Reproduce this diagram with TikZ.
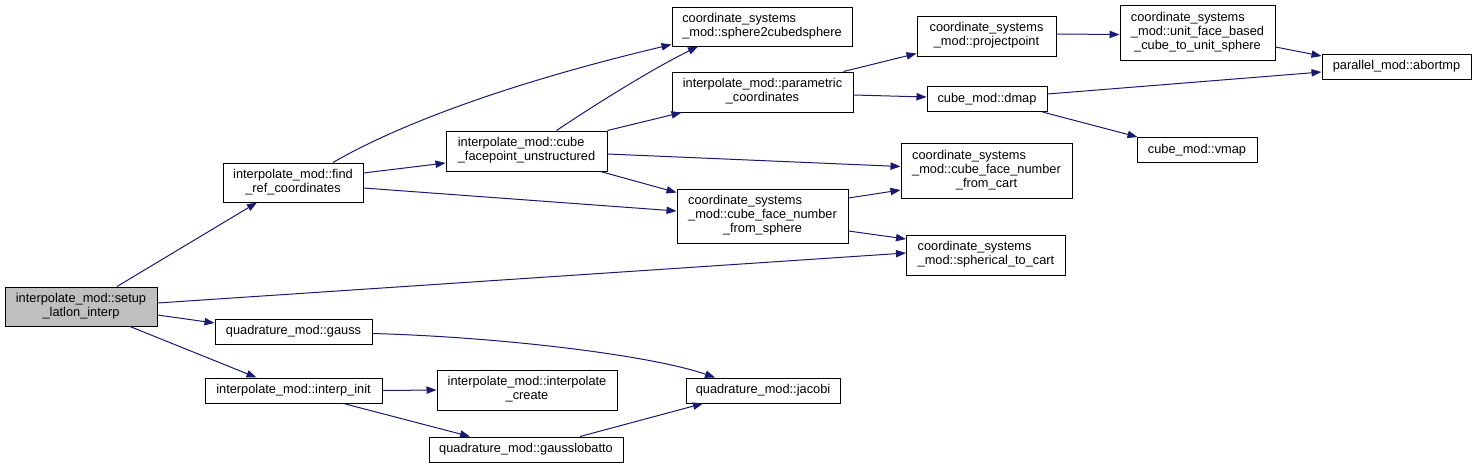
\documentclass[tikz,border=0pt]{standalone}
\usepackage{fontspec}
\setmainfont{Liberation Sans}
\usepackage{xcolor}
\usepackage{tikz}
\usetikzlibrary{arrows.meta}

\definecolor{edgeblue}{RGB}{25,25,112}
% two or three line labels: upper lines flush left, last line centred
\newcommand{\fnlab}[2]{\begin{tabular}{@{}l@{}}#1\\\multicolumn{1}{@{}c@{}}{#2}\end{tabular}}

\begin{document}
\begin{tikzpicture}[
      x=0.75pt, y=-0.75pt,
      font=\fontsize{9.6}{10.6}\selectfont,
      fn/.style={draw, line width=0.75pt, inner sep=0pt, minimum height=18.75pt, fill=white},
      root/.style={fn, fill=black!25},
      arr/.style={-{Triangle[length=7.5pt, width=5.5pt]}, draw=edgeblue, line width=0.75pt},
    ]
    \useasboundingbox (0,0) rectangle (1476,468);

    % Caller
    \node[root, minimum width=114pt, minimum height=29.25pt] (setup) at (81,306.5)
      {\fnlab{interpolate\_mod::setup}{\_latlon\_interp}};

    % First level
    \node[fn, minimum width=105pt, minimum height=29.25pt] (findref) at (293,182.5)
      {\fnlab{interpolate\_mod::find}{\_ref\_coordinates}};
    \node[fn, minimum width=117.75pt] (gauss) at (293.5,331.5) {quadrature\_mod::gauss};
    \node[fn, minimum width=132.75pt] (interpinit) at (293.5,390.5) {interpolate\_mod::interp\_init};

    % Second level
    \node[fn, minimum width=120.75pt, minimum height=30pt] (cubefp) at (526.5,151)
      {\fnlab{interpolate\_mod::cube}{\_facepoint\_unstructured}};
    \node[fn, minimum width=135pt, minimum height=30pt] (interpcreate) at (527,390)
      {\fnlab{interpolate\_mod::interpolate}{\_create}};
    \node[fn, minimum width=145.5pt] (gausslob) at (526,449.5) {quadrature\_mod::gausslobatto};

    % Third level
    \node[fn, minimum width=135pt, minimum height=29.25pt] (sph2cubed) at (762,26.5)
      {\fnlab{coordinate\_systems}{\_mod::sphere2cubedsphere}};
    \node[fn, minimum width=135.75pt, minimum height=30pt] (parametric) at (762.5,92)
      {\fnlab{interpolate\_mod::parametric}{\_coordinates}};
    \node[fn, minimum width=128.25pt, minimum height=40.5pt] (cfsphere) at (762.5,216)
      {\fnlab{coordinate\_systems\\\_mod::cube\_face\_number}{\_from\_sphere}};
    \node[fn, minimum width=115.5pt] (jacobi) at (763,390.5) {quadrature\_mod::jacobi};

    % Fourth level
    \node[fn, minimum width=104.25pt, minimum height=30pt] (projpoint) at (986.5,36)
      {\fnlab{coordinate\_systems}{\_mod::projectpoint}};
    \node[fn, minimum width=90pt] (dmap) at (987,99) {cube\_mod::dmap};
    \node[fn, minimum width=128.25pt, minimum height=41.25pt] (cfcart) at (986.5,170.5)
      {\fnlab{coordinate\_systems\\\_mod::cube\_face\_number}{\_from\_cart}};
    \node[fn, minimum width=119.25pt, minimum height=30pt] (sph2cart) at (986,255)
      {\fnlab{coordinate\_systems}{\_mod::spherical\_to\_cart}};

    % Fifth level
    \node[fn, minimum width=116.25pt, minimum height=41.25pt] (unitface) at (1197.5,32.5)
      {\fnlab{coordinate\_systems\\\_mod::unit\_face\_based}{\_cube\_to\_unit\_sphere}};
    \node[fn, minimum width=90pt] (vmap) at (1197,150) {cube\_mod::vmap};
    \node[fn, minimum width=111.75pt] (abortmp) at (1396.5,66.5) {parallel\_mod::abortmp};

    % Calls
    \draw[arr] ([shift={(36,0)}]setup.north) -- ([shift={(-36,0)}]findref.south);
    \draw[arr] ([shift={(0,-3.5)}]setup.east) -- ([shift={(0,-2)}]sph2cart.west);
    \draw[arr] ([shift={(0,8.5)}]setup.east) -- ([shift={(0,-8.5)}]gauss.west);
    \draw[arr] ([shift={(49,0)}]setup.south) -- ([shift={(-37,0)}]interpinit.north);

    \draw[arr] ([shift={(0,-9.5)}]findref.east) -- ([shift={(0,12)}]cubefp.west);
    \draw[arr] ([shift={(40,0)}]findref.north) .. controls (380,135) and (480,90) ..
      ([shift={(0,-2)}]sph2cubed.south west);
    \draw[arr] ([shift={(0,5.5)}]findref.east) -- ([shift={(0,-5)}]cfsphere.west);

    \draw[arr] ([shift={(30,0)}]cubefp.north) .. controls (590,108) and (650,70) ..
      ([shift={(-64,0)}]sph2cubed.south);
    \draw[arr] (cubefp.north east) -- ([shift={(10,0)}]parametric.south west);
    \draw[arr] ([shift={(0,3)}]cubefp.east) -- ([shift={(0,-4)}]cfcart.west);
    \draw[arr] ([shift={(-7,0)}]cubefp.south east) -- ([shift={(0,4)}]cfsphere.north west);

    \draw[arr] ([shift={(0,-18)}]cfsphere.east) -- ([shift={(0,19.5)}]cfcart.west);
    \draw[arr] ([shift={(0,15)}]cfsphere.east) -- ([shift={(0,-16)}]sph2cart.west);

    \draw[arr] ([shift={(-10,0)}]parametric.north east) -- ([shift={(0,-3)}]projpoint.south west);
    \draw[arr] ([shift={(0,3)}]parametric.east) -- ([shift={(0,-2)}]dmap.west);

    \draw[arr] ([shift={(0,-2)}]projpoint.east) -- ([shift={(0,2)}]unitface.west);
    \draw[arr] ([shift={(0,14.5)}]unitface.east) -- ([shift={(0,-10.5)}]abortmp.west);
    \draw[arr] ([shift={(0,-5)}]dmap.east) -- ([shift={(0,5.5)}]abortmp.west);
    \draw[arr] ([shift={(-5,0)}]dmap.south east) -- ([shift={(1,0)}]vmap.north west);

    \draw[arr] ([shift={(0,2)}]gauss.east) .. controls (500,337) and (650,355) ..
      ([shift={(-48,0)}]jacobi.north);
    \draw[arr] (interpinit.east) -- (interpcreate.west);
    \draw[arr] ([shift={(50,0)}]interpinit.south) -- ([shift={(-56,0)}]gausslob.north);
    \draw[arr] ([shift={(54,0)}]gausslob.north) -- ([shift={(-60,0)}]jacobi.south);
  \end{tikzpicture}
\end{document}
